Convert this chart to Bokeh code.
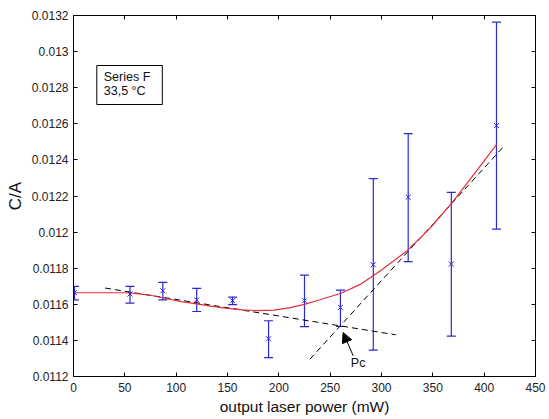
from bokeh.plotting import figure
from bokeh.models import (ColumnDataSource, Whisker, TeeHead, LinearAxis, FixedTicker,
                          Arrow, NormalHead, Label, CustomJSTickFormatter)
from bokeh.core.properties import value
from bokeh.embed import file_html
from bokeh.resources import INLINE

# ---- data ----
power = [1, 55, 87, 120, 155, 190, 225, 260, 292, 326, 368, 412]
ratio = [0.011664, 0.011657, 0.011675, 0.011624, 0.011620, 0.011409,
         0.011620, 0.011583, 0.011819, 0.012193, 0.011823, 0.012590]
err_upper = [0.011699, 0.011699, 0.011721, 0.011688, 0.011640, 0.011509,
             0.011762, 0.011679, 0.012296, 0.012546, 0.012220, 0.013163]
err_lower = [0.011624, 0.011607, 0.011625, 0.011560, 0.011598, 0.011305,
             0.011476, 0.011477, 0.011346, 0.011836, 0.011424, 0.012017]

fit_x = [0, 50, 60, 75, 90, 105, 120, 135, 150, 165, 180, 195, 210, 225, 240,
         260, 280, 300, 325, 347, 369, 390, 412]
fit_y = [0.011664, 0.011664, 0.011661, 0.011650, 0.011632, 0.011615, 0.011602,
         0.011589, 0.011577, 0.011569, 0.011565, 0.011568, 0.011580, 0.011600,
         0.011625, 0.011660, 0.011712, 0.011790, 0.011897, 0.012020, 0.012165,
         0.012320, 0.012485]

low_line_x = [30.8, 313.9]
low_line_y = [0.011690, 0.011431]
high_line_x = [230.3, 418.3]
high_line_y = [0.011296, 0.012470]

x_ticks = [0, 50, 100, 150, 200, 250, 300, 350, 400, 450]
y_ticks = [0.0112, 0.0114, 0.0116, 0.0118, 0.012, 0.0122, 0.0124, 0.0126,
           0.0128, 0.013, 0.0132]
y_tick_labels = ["0.0112", "0.0114", "0.0116", "0.0118", "0.012", "0.0122",
                 "0.0124", "0.0126", "0.0128", "0.013", "0.0132"]

info_lines = ["Series F", "33,5 °C"]

BLUE = "#2a2ad2"
RED = "#e0303a"
FONT = "Liberation Sans"

p = figure(width=549, height=419, x_range=(0, 450), y_range=(0.0112, 0.0132),
           output_backend="svg", toolbar_location=None,
           min_border_left=73, min_border_right=14, min_border_top=15,
           min_border_bottom=43)
p.xgrid.visible = False
p.ygrid.visible = False
p.outline_line_color = "black"
p.background_fill_color = "white"
p.border_fill_color = "white"

# axes
for ax in (p.xaxis[0], p.yaxis[0]):
    ax.major_tick_in = 4
    ax.major_tick_out = 0
    ax.minor_tick_in = 0
    ax.minor_tick_out = 0
    ax.axis_line_color = "black"
    ax.major_tick_line_color = "black"
    ax.major_label_text_font = FONT
    ax.major_label_text_font_size = "12px"
    ax.major_label_text_color = "#222222"
    ax.axis_label_text_font = FONT
    ax.axis_label_text_font_style = "normal"
    ax.axis_label_text_color = "#111111"

p.xaxis[0].ticker = FixedTicker(ticks=x_ticks)
p.yaxis[0].ticker = FixedTicker(ticks=y_ticks)
p.yaxis[0].major_label_overrides = {t: s for t, s in zip(y_ticks, y_tick_labels)}
p.xaxis[0].axis_label = "output laser power (mW)"
p.xaxis[0].axis_label_text_font_size = "15.5px"
p.xaxis[0].major_label_standoff = 6
p.xaxis[0].axis_label_standoff = 3
p.yaxis[0].axis_label = "C/A"
p.yaxis[0].axis_label_text_font_size = "17px"
p.yaxis[0].major_label_standoff = 5
p.yaxis[0].axis_label_standoff = 4

blank = CustomJSTickFormatter(code="return '';")
top = LinearAxis(ticker=FixedTicker(ticks=x_ticks), major_tick_in=4, major_tick_out=0,
                 minor_tick_in=0, minor_tick_out=0, formatter=blank,
                 major_label_standoff=0, axis_line_color="black")
right = LinearAxis(ticker=FixedTicker(ticks=y_ticks), major_tick_in=4, major_tick_out=0,
                   minor_tick_in=0, minor_tick_out=0, formatter=blank,
                   major_label_standoff=0, axis_line_color="black")
p.add_layout(top, "above")
p.add_layout(right, "right")

# dashed lines
p.line(low_line_x, low_line_y, line_color="black", line_width=1, line_dash="6 4")
p.line(high_line_x, high_line_y, line_color="black", line_width=1, line_dash="6 4")

# fit curve
p.line(fit_x, fit_y, line_color=RED, line_width=1.2)

# error bars
src = ColumnDataSource(dict(x=power, y=ratio, upper=err_upper, lower=err_lower))
wh = Whisker(base="x", upper="upper", lower="lower", source=src,
             line_color=BLUE, line_width=1.2,
             upper_head=TeeHead(size=9, line_color=BLUE, line_width=1.2),
             lower_head=TeeHead(size=9, line_color=BLUE, line_width=1.2))
p.add_layout(wh)
p.scatter("x", "y", source=src, marker="x", size=7, line_color=BLUE, line_width=1)

# Pc annotation
p.add_layout(Arrow(end=NormalHead(size=10, fill_color="black", line_color="black"),
                   x_start=272.4, y_start=0.011315, x_end=262.6, y_end=0.011444,
                   line_color="black", line_width=1))
p.add_layout(Label(x=277.2, y=0.011276, text="Pc", text_font=FONT,
                   text_font_size="12.5px", text_align="center",
                   text_baseline="middle", text_color="#111111"))

# info box
p.quad(left=[22.7], right=[86.5], bottom=[0.012707], top=[0.012923],
       fill_color="white", line_color="black", line_width=1)
p.text(x=[29.5, 29.5], y=[0.012860, 0.012782], text=info_lines,
       text_font=value(FONT), text_font_size="12.5px", text_baseline="middle",
       text_color="#111111")

open("out.html", "w").write(file_html(p, INLINE))
